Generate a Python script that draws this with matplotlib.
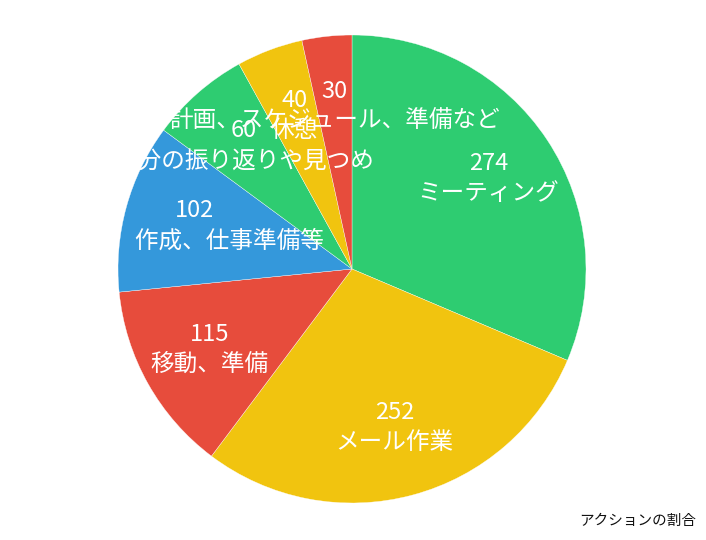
import matplotlib
matplotlib.use("Agg")
import matplotlib.pyplot as plt

plt.rcParams['font.family'] = ['Noto Sans CJK JP', 'DejaVu Sans']

# data
values = [274, 252, 115, 102, 60, 40, 30]
names = [
    'ミーティング',
    'メール作業',
    '移動、準備',
    '\u3000\u3000\u3000作成、仕事準備等',
    '自分の振り返りや見つめ',
    '休憩',
    '計画、スケジュール、準備など',
]
colors = ['#2ecc71', '#f1c40f', '#e74c3c', '#3498db', '#2ecc71', '#f1c40f', '#e74c3c']
title = 'アクションの割合'

labels = [f"{v}\n{n}" for v, n in zip(values, names)]

fig = plt.figure(figsize=(7.06, 5.40), dpi=100)
ax = fig.add_axes([0, 0, 1, 1])
ax.set_xlim(0, 706)
ax.set_ylim(0, 540)
ax.set_aspect('equal')
ax.axis('off')

ax.pie(values, labels=labels, colors=colors, startangle=90, counterclock=False,
       center=(352, 271), radius=234, labeldistance=0.7,
       wedgeprops=dict(edgecolor='white', linewidth=0.25),
       textprops=dict(color='white', fontsize=17, ha='center', va='center',
                      multialignment='center', linespacing=1.4))
ax.set_xlim(0, 706)
ax.set_ylim(0, 540)

fig.text(696 / 706, 1 - 521 / 540, title, ha='right', va='center', fontsize=10.5, color='#111111')

fig.savefig('out.png', dpi=100)
